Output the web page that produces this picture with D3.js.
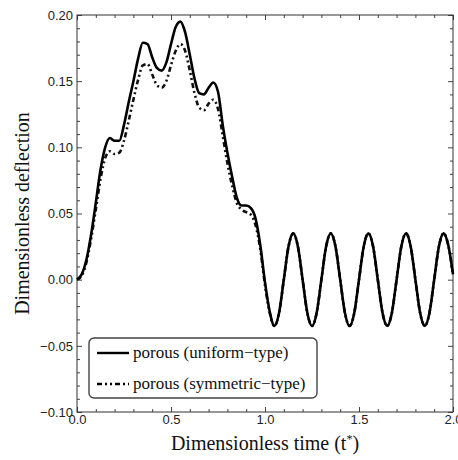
<!DOCTYPE html>
<html>
<head>
    <meta charset="utf-8">
    <title>Dimensionless deflection vs time</title>
    <script src="https://cdn.jsdelivr.net/npm/d3@7"></script>
    <style>
        body { margin: 0; background: #fff; }
        .tick text { font: 13px "Liberation Sans", Arial, sans-serif; fill: #222; }
        .tick line { stroke: #444; }
        .domain { display: none; }
        .title { font-family: "Liberation Serif", "Times New Roman", serif; font-size: 20px; fill: #111; }
        .legend text { font-family: "Liberation Serif", "Times New Roman", serif; font-size: 17px; fill: #111; }
    </style>
</head>
<body>
    <div id="chart"></div>

    <script>
        // time grid
        const timeValues = [
            0, 0.025, 0.05, 0.075, 0.1, 0.125, 0.15, 0.175, 0.2, 0.225,
            0.25, 0.275, 0.3, 0.325, 0.35, 0.375, 0.4, 0.425, 0.45, 0.475,
            0.5, 0.525, 0.55, 0.575, 0.6, 0.625, 0.65, 0.675, 0.7, 0.725,
            0.75, 0.775, 0.8, 0.825, 0.85, 0.875, 0.9, 0.925, 0.95, 0.975,
            1.0, 1.025, 1.05, 1.075, 1.1, 1.125, 1.15, 1.175, 1.2, 1.225,
            1.25, 1.275, 1.3, 1.325, 1.35, 1.375, 1.4, 1.425, 1.45, 1.475,
            1.5, 1.525, 1.55, 1.575, 1.6, 1.625, 1.65, 1.675, 1.7, 1.725,
            1.75, 1.775, 1.8, 1.825, 1.85, 1.875, 1.9, 1.925, 1.95, 1.975,
            2.0
        ];

        // porous (uniform-type)
        const uniformValues = [
            0, 0.004, 0.015, 0.034, 0.058, 0.083, 0.100, 0.107, 0.105, 0.105,
            0.117, 0.134, 0.150, 0.167, 0.179, 0.178, 0.168, 0.160, 0.158, 0.164,
            0.178, 0.191, 0.195, 0.187, 0.170, 0.152, 0.141, 0.140, 0.145, 0.149,
            0.142, 0.117, 0.096, 0.078, 0.062, 0.056, 0.056, 0.054, 0.046, 0.026,
            -0.002, -0.024, -0.035, -0.025, 0.000, 0.025, 0.035, 0.025, 0.000, -0.025,
            -0.035, -0.025, 0.000, 0.025, 0.035, 0.025, 0.000, -0.025, -0.035, -0.025,
            0.000, 0.025, 0.035, 0.025, 0.000, -0.025, -0.035, -0.025, 0.000, 0.025,
            0.035, 0.025, 0.000, -0.025, -0.035, -0.025, 0.000, 0.025, 0.035, 0.026,
            0.004
        ];

        // porous (symmetric-type)
        const symmetricValues = [
            0, 0.003, 0.013, 0.031, 0.053, 0.076, 0.092, 0.097, 0.095, 0.096,
            0.105, 0.120, 0.136, 0.151, 0.162, 0.163, 0.155, 0.147, 0.145, 0.150,
            0.162, 0.173, 0.178, 0.173, 0.158, 0.141, 0.130, 0.128, 0.133, 0.136,
            0.129, 0.109, 0.088, 0.071, 0.058, 0.053, 0.051, 0.049, 0.041, 0.023,
            -0.004, -0.025, -0.035, -0.025, 0.000, 0.025, 0.035, 0.025, 0.000, -0.025,
            -0.035, -0.025, 0.000, 0.025, 0.035, 0.025, 0.000, -0.025, -0.035, -0.025,
            0.000, 0.025, 0.035, 0.025, 0.000, -0.025, -0.035, -0.025, 0.000, 0.025,
            0.035, 0.025, 0.000, -0.025, -0.035, -0.025, 0.000, 0.025, 0.035, 0.026,
            0.004
        ];

        const xMajorTicks = [0, 0.5, 1.0, 1.5, 2.0];
        const xMinorTicks = [0.1, 0.2, 0.3, 0.4, 0.6, 0.7, 0.8, 0.9, 1.1, 1.2, 1.3, 1.4, 1.6, 1.7, 1.8, 1.9];
        const yMajorTicks = [-0.10, -0.05, 0.00, 0.05, 0.10, 0.15, 0.20];
        const yMinorTicks = [-0.09, -0.08, -0.07, -0.06, -0.04, -0.03, -0.02, -0.01,
            0.01, 0.02, 0.03, 0.04, 0.06, 0.07, 0.08, 0.09,
            0.11, 0.12, 0.13, 0.14, 0.16, 0.17, 0.18, 0.19];
        const seriesNames = ["porous (uniform\u2212type)", "porous (symmetric\u2212type)"];

        const margin = { top: 15, right: 5, bottom: 48, left: 77 };
        const W = 458, H = 460;
        const width = W - margin.left - margin.right;
        const height = H - margin.top - margin.bottom;

        const svg = d3.select("#chart").append("svg")
            .attr("width", W)
            .attr("height", H);
        const g = svg.append("g")
            .attr("transform", `translate(${margin.left},${margin.top})`);

        const x = d3.scaleLinear().domain([0, 2]).range([0, width]);
        const y = d3.scaleLinear().domain([-0.10, 0.20]).range([height, 0]);

        const majorLen = 5, minorLen = 3;

        // axes, ticks pointing inward on all four sides
        g.append("g").attr("transform", `translate(0,${height})`)
            .call(d3.axisBottom(x).tickValues(xMajorTicks).tickFormat(d3.format(".1f"))
                .tickSizeInner(-majorLen).tickSizeOuter(0).tickPadding(3));
        g.append("g").attr("transform", `translate(0,${height})`)
            .call(d3.axisBottom(x).tickValues(xMinorTicks).tickFormat("")
                .tickSizeInner(-minorLen).tickSizeOuter(0));
        g.append("g")
            .call(d3.axisTop(x).tickValues(xMajorTicks).tickFormat("")
                .tickSizeInner(-majorLen).tickSizeOuter(0));
        g.append("g")
            .call(d3.axisTop(x).tickValues(xMinorTicks).tickFormat("")
                .tickSizeInner(-minorLen).tickSizeOuter(0));

        g.append("g")
            .call(d3.axisLeft(y).tickValues(yMajorTicks).tickFormat(d3.format(".2f"))
                .tickSizeInner(-majorLen).tickSizeOuter(0).tickPadding(4));
        g.append("g")
            .call(d3.axisLeft(y).tickValues(yMinorTicks).tickFormat("")
                .tickSizeInner(-minorLen).tickSizeOuter(0));
        g.append("g").attr("transform", `translate(${width},0)`)
            .call(d3.axisRight(y).tickValues(yMajorTicks).tickFormat("")
                .tickSizeInner(-majorLen).tickSizeOuter(0));
        g.append("g").attr("transform", `translate(${width},0)`)
            .call(d3.axisRight(y).tickValues(yMinorTicks).tickFormat("")
                .tickSizeInner(-minorLen).tickSizeOuter(0));

        // frame
        g.append("rect")
            .attr("width", width)
            .attr("height", height)
            .attr("fill", "none")
            .attr("stroke", "#333")
            .attr("stroke-width", 1);

        const line = d3.line()
            .x(d => x(d[0]))
            .y(d => y(d[1]))
            .curve(d3.curveMonotoneX);

        const symData = timeValues.map((t, i) => [t, symmetricValues[i]]);
        const uniData = timeValues.map((t, i) => [t, uniformValues[i]]);

        g.append("path")
            .datum(symData)
            .attr("d", line)
            .attr("fill", "none")
            .attr("stroke", "#111")
            .attr("stroke-width", 2.6)
            .attr("stroke-dasharray", "5,3,2,3,2,3");

        g.append("path")
            .datum(uniData)
            .attr("d", line)
            .attr("fill", "none")
            .attr("stroke", "#000")
            .attr("stroke-width", 2.6);

        // legend
        const legend = g.append("g").attr("class", "legend")
            .attr("transform", `translate(${12},${323})`);
        legend.append("rect")
            .attr("width", 228)
            .attr("height", 60)
            .attr("rx", 5)
            .attr("fill", "#fff")
            .attr("stroke", "#444")
            .attr("stroke-width", 1.4);
        seriesNames.forEach((name, i) => {
            const row = legend.append("g").attr("transform", `translate(0,${15 + i * 31})`);
            row.append("line")
                .attr("x1", 8).attr("x2", 40)
                .attr("y1", 0).attr("y2", 0)
                .attr("stroke", "#000")
                .attr("stroke-width", 2.4)
                .attr("stroke-dasharray", i === 0 ? null : "5,3,2,3,2,3");
            row.append("text")
                .attr("x", 44)
                .attr("dy", "0.32em")
                .text(name);
        });

        // axis titles
        svg.append("text")
            .attr("class", "title")
            .attr("x", margin.left + width / 2)
            .attr("y", 450)
            .attr("text-anchor", "middle")
            .text("Dimensionless time (t")
            .append("tspan").attr("baseline-shift", "super").attr("font-size", "12px").text("*")
            .select(function () { return this.parentNode; })
            .append("tspan").text(")");

        svg.append("text")
            .attr("class", "title")
            .attr("transform", `translate(29,${margin.top + height / 2}) rotate(-90)`)
            .attr("text-anchor", "middle")
            .text("Dimensionless deflection");
    </script>
</body>
</html>
